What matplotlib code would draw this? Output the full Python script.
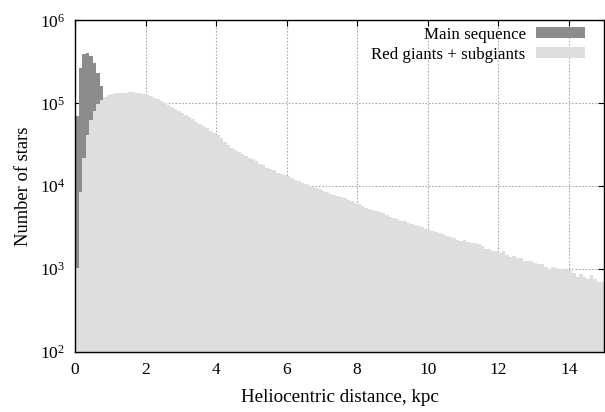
# Distance histogram of main-sequence and giant stars (gnuplot-like look)

import numpy as np
import matplotlib
matplotlib.use("Agg")
import matplotlib.pyplot as plt
from matplotlib.ticker import FixedLocator, FuncFormatter, NullLocator

# ================================================== Data ============================================================
bin_width = 0.1  # kpc

# red giants + subgiants, counts per 0.1 kpc bin from 0 to 15 kpc
rg_counts = [
    1040, 8530, 21900, 41100, 62400, 80700, 99100, 110700, 120200, 127400,
    130900, 132400, 133700, 134600, 135200, 135500, 135500, 134900, 134000, 130900,
    126500, 122500, 117500, 111700, 106400, 100500, 95100, 90600, 86300, 81700,
    77300, 72800, 68500, 64400, 60400, 56500, 53000, 49800, 46800, 44100,
    41300, 38700, 33900, 31600, 29200, 27200, 25900, 24800, 23400, 22100,
    21100, 20200, 18750, 17900, 16800, 16200, 15600, 14600, 14100, 13700,
    13200, 12600, 12000, 11500, 11070, 10670, 10280, 9820, 9550, 9290,
    8870, 8550, 8170, 7870, 7590, 7380, 7160, 6840, 6590, 6300,
    6180, 5740, 5530, 5380, 5240, 5050, 4860, 4780, 4480, 4280,
    4160, 4010, 3850, 3780, 3650, 3550, 3450, 3300, 3180, 3030,
    2980, 2920, 2820, 2740, 2620, 2500, 2430, 2390, 2240, 2200,
    2240, 2140, 2040, 2040, 2000, 1890, 1730, 1770, 1660, 1650,
    1570, 1650, 1480, 1410, 1450, 1350, 1350, 1260, 1250, 1250,
    1170, 1140, 1140, 1050, 1000, 1050, 1040, 990, 990, 970,
    970, 890, 810, 870, 810, 760, 850, 760, 700, 690,
]

# main sequence, counts per 0.1 kpc bin (only the nearby bins)
ms_counts = [69700, 269000, 397000, 408000, 378000, 309000, 230000, 160000,
             100000, 60000, 32000, 16000, 7000, 3000, 1200, 500]

labels = ["Main sequence", "Red giants + subgiants"]
y_ticks = [1e2, 1e3, 1e4, 1e5, 1e6]
x_ticks = [0, 2, 4, 6, 8, 10, 12, 14]

# ================================================== Plot ============================================================
plt.rcParams["font.family"] = ["Liberation Serif", "DejaVu Serif"]
plt.rcParams["mathtext.fontset"] = "custom"
plt.rcParams["mathtext.rm"] = "Liberation Serif"
plt.rcParams["mathtext.it"] = "Liberation Serif:italic"
plt.rcParams["font.size"] = 12.5

fig = plt.figure(figsize=(6.05, 4.12), dpi=100)
ax = fig.add_axes([75 / 605, 60 / 412, 529 / 605, 331.5 / 412])

rg_edges = np.arange(len(rg_counts) + 1) * bin_width
ms_edges = np.arange(len(ms_counts) + 1) * bin_width

ax.stairs(ms_counts, ms_edges, fill=True, baseline=1, color="#8c8c8c",
          label=labels[0], zorder=2)
ax.stairs(rg_counts, rg_edges, fill=True, baseline=1, color="#dedede",
          label=labels[1], zorder=3)

ax.set_yscale("log")
ax.set_xlim(0, 15)
ax.set_ylim(1e2, 1e6)

ax.yaxis.set_major_locator(FixedLocator(y_ticks))
ax.yaxis.set_minor_locator(NullLocator())
ax.yaxis.set_major_formatter(FuncFormatter(lambda v, p: r"$10^{%d}$" % round(np.log10(v))))
ax.xaxis.set_major_locator(FixedLocator(x_ticks))

ax.tick_params(direction="in", length=4, width=0.8, top=True, right=True,
               labelsize=12.5, pad=7)

ax.grid(True, color="#aaaaaa", linestyle=(0, (1.5, 1.5)), linewidth=0.8, zorder=1)
ax.set_axisbelow(True)

for s in ax.spines.values():
    s.set_linewidth(1.0)
    s.set_zorder(5)

ax.set_xlabel("Heliocentric distance, kpc", labelpad=8, fontsize=13.7)
ax.set_ylabel("Number of stars", labelpad=6, fontsize=13.3)

leg = ax.legend(loc="upper right", bbox_to_anchor=(0.977, 1.002), frameon=False,
                markerfirst=False, handlelength=2.9, handleheight=0.6,
                handletextpad=0.6, labelspacing=0.25, borderaxespad=0.0,
                fontsize=12.2)
leg.set_zorder(6)

fig.savefig("out.png", dpi=100)
